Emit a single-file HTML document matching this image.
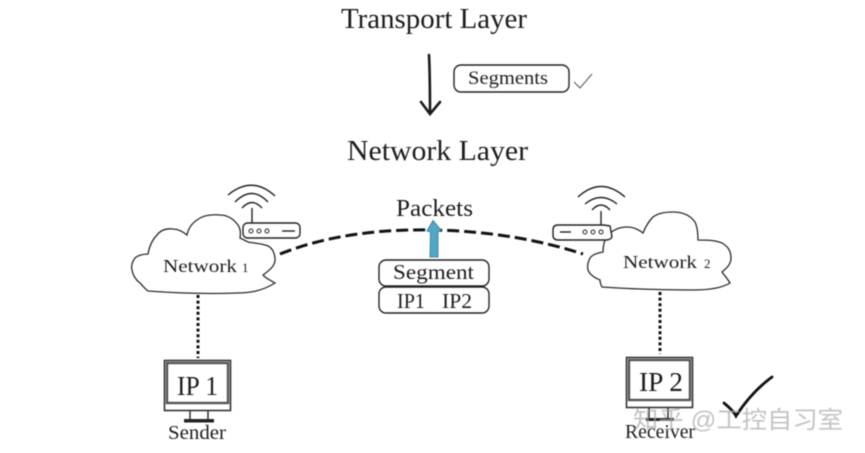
<!DOCTYPE html>
<html>
<head>
<meta charset="utf-8">
<style>
html,body{margin:0;padding:0;background:#fff;width:865px;height:453px;overflow:hidden}
svg{display:block;filter:blur(.45px)}
text{font-family:"Liberation Serif",serif;fill:#1c1c1c}
</style>
</head>
<body>
<svg width="865" height="453" viewBox="0 0 865 453" xmlns="http://www.w3.org/2000/svg">
<rect width="865" height="453" fill="#fff"/>

<text x="341" y="28" font-size="28" textLength="186" lengthAdjust="spacingAndGlyphs">Transport Layer</text>
<text x="347" y="160" font-size="28" textLength="181" lengthAdjust="spacingAndGlyphs">Network Layer</text>

<path d="M429 55 C430 75 430 95 430 113" fill="none" stroke="#1a1a1a" stroke-width="2.6" stroke-linecap="round"/>
<path d="M421 102 L430 114 L440 102" fill="none" stroke="#1a1a1a" stroke-width="2.6" stroke-linecap="round"/>

<rect x="454" y="65" width="115" height="27" rx="7" fill="#fff" stroke="#222" stroke-width="1.4"/>
<text x="468" y="84" font-size="19" textLength="80" lengthAdjust="spacingAndGlyphs">Segments</text>
<path d="M574 82 L580 88 L592 74" fill="none" stroke="#555" stroke-width="1"/>

<!-- Cloud 1 -->
<path d="M148 291 C175 293 210 294 237 293 C250 293 262 291 275 283 C270 280 265 278 263 275 C270 270 276 265 275 258 C274 250 270 246 265 245 C258 243 252 243 248 242 L240 238 C241 232 240 228 238 225 C232 217 226 215 220 215 C210 214 202 216 197 220 C191 224 188 230 187 235 C182 231 178 229 173 229 C165 228 160 231 157 235 C151 241 149 248 148 254 C142 254 137 256 135 258 C132 262 131 266 132 270 C133 276 136 280 140 283 C143 286 145 289 148 291 Z" fill="#fff" stroke="#2a2a2a" stroke-width="1.3"/>
<text x="163" y="272" font-size="17.5" textLength="74" lengthAdjust="spacingAndGlyphs">Network</text>
<text x="242" y="272" font-size="13">1</text>

<!-- Cloud 2 -->
<path d="M602 287 C630 289 665 290 693 290 C708 290 722 288 730 283 C727 278 724 275 722 272 C727 268 731 264 731 258 C731 250 727 246 722 243 C715 240 705 240 698 240 C698 232 697 226 695 222 C690 215 682 212 673 212 C664 212 657 214 653 217 C648 222 645 228 643 233 C638 229 632 227 627 227 C618 227 612 231 608 235 C604 240 603 246 603 252 C597 253 592 255 590 258 C588 262 587 266 588 270 C590 275 595 278 600 280 C600 283 601 285 602 287 Z" fill="#fff" stroke="#2a2a2a" stroke-width="1.3"/>
<text x="623" y="268" font-size="17.5" textLength="74" lengthAdjust="spacingAndGlyphs">Network</text>
<text x="704" y="268" font-size="13">2</text>

<!-- Router 1 -->
<line x1="252" y1="208" x2="252" y2="223" stroke="#222" stroke-width="1.4"/>
<path d="M228 195 Q252 175 275 196" fill="none" stroke="#222" stroke-width="1.4"/>
<path d="M235 202 Q252 185 268 202" fill="none" stroke="#222" stroke-width="1.4"/>
<path d="M242 208 Q252 197 262 208" fill="none" stroke="#222" stroke-width="1.4"/>
<rect x="243" y="223" width="57" height="15" rx="4.5" fill="#fff" stroke="#222" stroke-width="1.4"/>
<circle cx="251" cy="231" r="2" fill="none" stroke="#222"/>
<circle cx="259" cy="231" r="2" fill="none" stroke="#222"/>
<circle cx="267" cy="231" r="2" fill="none" stroke="#222"/>
<line x1="282" y1="231" x2="295" y2="231" stroke="#222" stroke-width="1.4"/>

<!-- Router 2 -->
<line x1="601" y1="211" x2="601" y2="225" stroke="#222" stroke-width="1.4"/>
<path d="M578 197 Q601 176 625 197" fill="none" stroke="#222" stroke-width="1.4"/>
<path d="M585 204 Q601 191 617 204" fill="none" stroke="#222" stroke-width="1.4"/>
<path d="M592 210 Q601 200 610 210" fill="none" stroke="#222" stroke-width="1.4"/>
<path d="M604 225 L558 225 Q553 225 553 230 L553 235 Q553 240 558 240 L606 240 Q610 240 612 237 L610 226 Z" fill="#fff" stroke="#222" stroke-width="1.4"/>
<circle cx="585" cy="232" r="2" fill="none" stroke="#222"/>
<circle cx="593" cy="232" r="2" fill="none" stroke="#222"/>
<circle cx="601" cy="232" r="2" fill="none" stroke="#222"/>
<line x1="560" y1="232" x2="571" y2="232" stroke="#222" stroke-width="1.4"/>

<!-- Dashed link -->
<path d="M280 254 C330 234 385 229 433 230 C490 231 540 240 583 254" fill="none" stroke="#111" stroke-width="3" stroke-dasharray="12 5"/>

<!-- Packets -->
<text x="396" y="216" font-size="24" textLength="77" lengthAdjust="spacingAndGlyphs">Packets</text>

<!-- Blue arrow -->
<path d="M430 257 L430.5 232 L427 231 L433 220.500 L441 230 L438 232 L438 257 Z" fill="#52a6c6" stroke="#3d8aa6" stroke-width="1"/>

<!-- Segment stack -->
<rect x="379" y="260" width="110" height="26" rx="7" fill="#fff" stroke="#222" stroke-width="1.4"/>
<text x="393" y="279" font-size="21.5" textLength="81" lengthAdjust="spacingAndGlyphs">Segment</text>
<rect x="379" y="287" width="110" height="26" rx="7" fill="#fff" stroke="#222" stroke-width="1.4"/>
<text x="397" y="308" font-size="21.5" textLength="28" lengthAdjust="spacingAndGlyphs">IP1</text>
<text x="442" y="308" font-size="21.5" textLength="30" lengthAdjust="spacingAndGlyphs">IP2</text>

<!-- Dotted verticals -->
<path d="M198 295 L198 358" stroke="#111" stroke-width="3" stroke-dasharray="3 2.6" fill="none"/>
<path d="M660 292 L660 354" stroke="#111" stroke-width="3" stroke-dasharray="3 2.6" fill="none"/>

<!-- Monitor 1 -->
<rect x="164.500" y="360.500" width="66" height="50" fill="#fff" stroke="#333" stroke-width="1.6"/>
<rect x="167" y="363" width="61" height="40" fill="#fff" stroke="#555" stroke-width="2.4"/>
<text x="177" y="395" font-size="27" textLength="41" lengthAdjust="spacingAndGlyphs">IP 1</text>
<path d="M190 411 L190 419 M208 411 L208 419" stroke="#222" stroke-width="1.4"/>
<rect x="184" y="419" width="30" height="3.500" fill="#222"/>
<text x="168" y="439" font-size="19.500" textLength="58" lengthAdjust="spacingAndGlyphs">Sender</text>

<!-- Monitor 2 -->
<rect x="626.500" y="357.500" width="66" height="50" fill="#fff" stroke="#333" stroke-width="1.6"/>
<rect x="629" y="360" width="61" height="40" fill="#fff" stroke="#555" stroke-width="2.4"/>
<text x="639" y="391" font-size="27" textLength="44" lengthAdjust="spacingAndGlyphs">IP 2</text>
<path d="M649 408 L649 418 M668 408 L668 418" stroke="#222" stroke-width="1.400"/>
<rect x="646" y="418" width="28" height="3" fill="#222"/>
<text x="625" y="438" font-size="19.500" textLength="70" lengthAdjust="spacingAndGlyphs">Receiver</text>

<!-- Big check -->
<path d="M724 403 C730 408 734 412 736 416 C745 402 757 388 772 377" fill="none" stroke="#111" stroke-width="2.800" stroke-linecap="round"/>

<!-- Watermark -->
<text x="633" y="428" font-size="24" style="font-family:'Liberation Sans','Noto Sans CJK SC',sans-serif;fill:#aaaaaa;fill-opacity:.7" textLength="210" lengthAdjust="spacingAndGlyphs">知乎 @工控自习室</text>
</svg>
</body>
</html>
